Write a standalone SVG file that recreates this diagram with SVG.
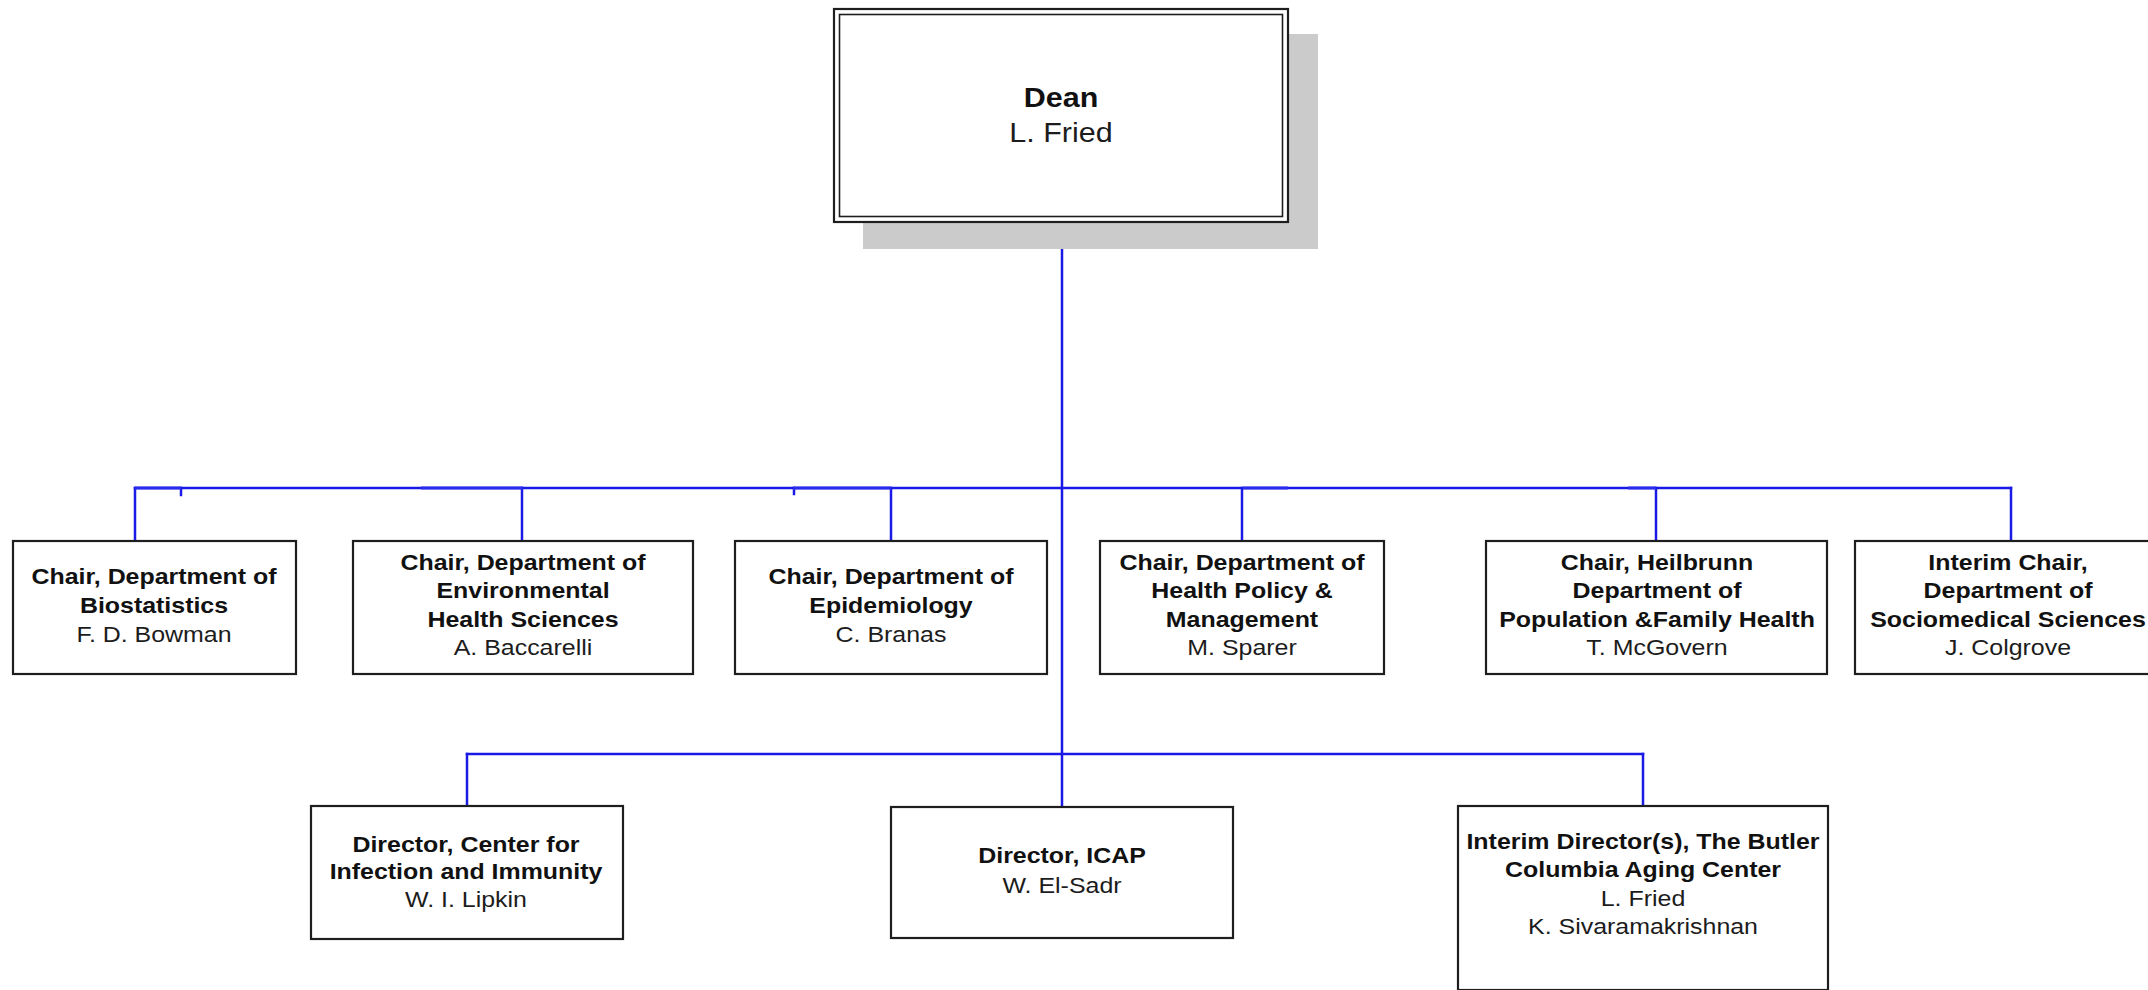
<svg xmlns="http://www.w3.org/2000/svg" width="2148" height="990" viewBox="0 0 2148 990">
<style>
.bg{fill:#ffffff}
.box{fill:#ffffff;stroke:#1e1e1e;stroke-width:2.2}
.shadow{fill:#cbcbcb}
.conn{stroke:#1a1ae6;stroke-width:2.5;fill:none;stroke-linecap:square}
.thick{stroke:#3a3af0;stroke-width:4;opacity:0.55;fill:none}
.b{font-family:"Liberation Sans",Arial,sans-serif;font-weight:bold;font-size:21.5px;fill:#111111;text-anchor:middle}
.r{font-family:"Liberation Sans",Arial,sans-serif;font-size:21.5px;fill:#1c1c1c;text-anchor:middle}
.db{font-family:"Liberation Sans",Arial,sans-serif;font-weight:bold;font-size:27px;fill:#111111;text-anchor:middle}
.dr{font-family:"Liberation Sans",Arial,sans-serif;font-size:27px;fill:#1c1c1c;text-anchor:middle}
</style>
<rect class="bg" x="0" y="0" width="2148" height="990"/>

<g id="connectors">
  <line class="conn" x1="1062" y1="222" x2="1062" y2="807"/>
  <line class="conn" x1="135" y1="488" x2="2011" y2="488"/>
  <line class="conn" x1="135" y1="488" x2="135" y2="541"/>
  <line class="conn" x1="522" y1="488" x2="522" y2="541"/>
  <line class="conn" x1="891" y1="488" x2="891" y2="541"/>
  <line class="conn" x1="1242" y1="488" x2="1242" y2="541"/>
  <line class="conn" x1="1656" y1="488" x2="1656" y2="541"/>
  <line class="conn" x1="2011" y1="488" x2="2011" y2="541"/>
  <line class="conn" x1="181" y1="488" x2="181" y2="495"/>
  <line class="conn" x1="794" y1="488" x2="794" y2="494"/>
  <line class="thick" x1="135" y1="488" x2="181" y2="488"/>
  <line class="thick" x1="421" y1="488" x2="523" y2="488"/>
  <line class="thick" x1="793" y1="488" x2="891" y2="488"/>
  <line class="thick" x1="1243" y1="488" x2="1288" y2="488"/>
  <line class="thick" x1="1628" y1="488" x2="1656" y2="488"/>
  <line class="conn" x1="467" y1="754" x2="1643" y2="754"/>
  <line class="conn" x1="467" y1="754" x2="467" y2="806"/>
  <line class="conn" x1="1643" y1="754" x2="1643" y2="806"/>
</g>

<g id="dean">
  <rect class="shadow" x="863" y="34" width="455" height="215"/>
  <rect class="box" x="834" y="9" width="454" height="213" stroke-width="2.5"/>
  <rect x="839.5" y="14.5" width="443" height="202" fill="none" stroke="#1e1e1e" stroke-width="1.6"/>
  <text class="db" transform="translate(1061,107) scale(1.13,1)">Dean</text>
  <text class="dr" transform="translate(1061,142) scale(1.13,1)">L. Fried</text>
</g>

<g id="biostatistics">
  <rect class="box" x="13" y="541" width="283" height="133"/>
  <text class="b" transform="translate(154,584) scale(1.16,1)">Chair, Department of</text>
  <text class="b" transform="translate(154,613) scale(1.16,1)">Biostatistics</text>
  <text class="r" transform="translate(154,642) scale(1.16,1)">F. D. Bowman</text>
</g>

<g id="environmental">
  <rect class="box" x="353" y="541" width="340" height="133"/>
  <text class="b" transform="translate(523,570) scale(1.16,1)">Chair, Department of</text>
  <text class="b" transform="translate(523,598) scale(1.16,1)">Environmental</text>
  <text class="b" transform="translate(523,627) scale(1.16,1)">Health Sciences</text>
  <text class="r" transform="translate(523,655) scale(1.16,1)">A. Baccarelli</text>
</g>

<g id="epidemiology">
  <rect class="box" x="735" y="541" width="312" height="133"/>
  <text class="b" transform="translate(891,584) scale(1.16,1)">Chair, Department of</text>
  <text class="b" transform="translate(891,613) scale(1.16,1)">Epidemiology</text>
  <text class="r" transform="translate(891,642) scale(1.16,1)">C. Branas</text>
</g>

<g id="health-policy">
  <rect class="box" x="1100" y="541" width="284" height="133"/>
  <text class="b" transform="translate(1242,570) scale(1.16,1)">Chair, Department of</text>
  <text class="b" transform="translate(1242,598) scale(1.16,1)">Health Policy &amp;</text>
  <text class="b" transform="translate(1242,627) scale(1.16,1)">Management</text>
  <text class="r" transform="translate(1242,655) scale(1.16,1)">M. Sparer</text>
</g>

<g id="heilbrunn">
  <rect class="box" x="1486" y="541" width="341" height="133"/>
  <text class="b" transform="translate(1657,570) scale(1.16,1)">Chair, Heilbrunn</text>
  <text class="b" transform="translate(1657,598) scale(1.16,1)">Department of</text>
  <text class="b" transform="translate(1657,627) scale(1.16,1)">Population &amp;Family Health</text>
  <text class="r" transform="translate(1657,655) scale(1.16,1)">T. McGovern</text>
</g>

<g id="sociomedical">
  <rect class="box" x="1855" y="541" width="300" height="133"/>
  <text class="b" transform="translate(2008,570) scale(1.16,1)">Interim Chair,</text>
  <text class="b" transform="translate(2008,598) scale(1.16,1)">Department of</text>
  <text class="b" transform="translate(2008,627) scale(1.16,1)">Sociomedical Sciences</text>
  <text class="r" transform="translate(2008,655) scale(1.16,1)">J. Colgrove</text>
</g>

<g id="infection-immunity">
  <rect class="box" x="311" y="806" width="312" height="133"/>
  <text class="b" transform="translate(466,852) scale(1.16,1)">Director, Center for</text>
  <text class="b" transform="translate(466,879) scale(1.16,1)">Infection and Immunity</text>
  <text class="r" transform="translate(466,907) scale(1.16,1)">W. I. Lipkin</text>
</g>

<g id="icap">
  <rect class="box" x="891" y="807" width="342" height="131"/>
  <text class="b" transform="translate(1062,863) scale(1.16,1)">Director, ICAP</text>
  <text class="r" transform="translate(1062,893) scale(1.16,1)">W. El-Sadr</text>
</g>

<g id="butler">
  <rect class="box" x="1458" y="806" width="370" height="184"/>
  <text class="b" transform="translate(1643,849) scale(1.16,1)">Interim Director(s), The Butler</text>
  <text class="b" transform="translate(1643,877) scale(1.16,1)">Columbia Aging Center</text>
  <text class="r" transform="translate(1643,906) scale(1.16,1)">L. Fried</text>
  <text class="r" transform="translate(1643,934) scale(1.16,1)">K. Sivaramakrishnan</text>
</g>
</svg>
